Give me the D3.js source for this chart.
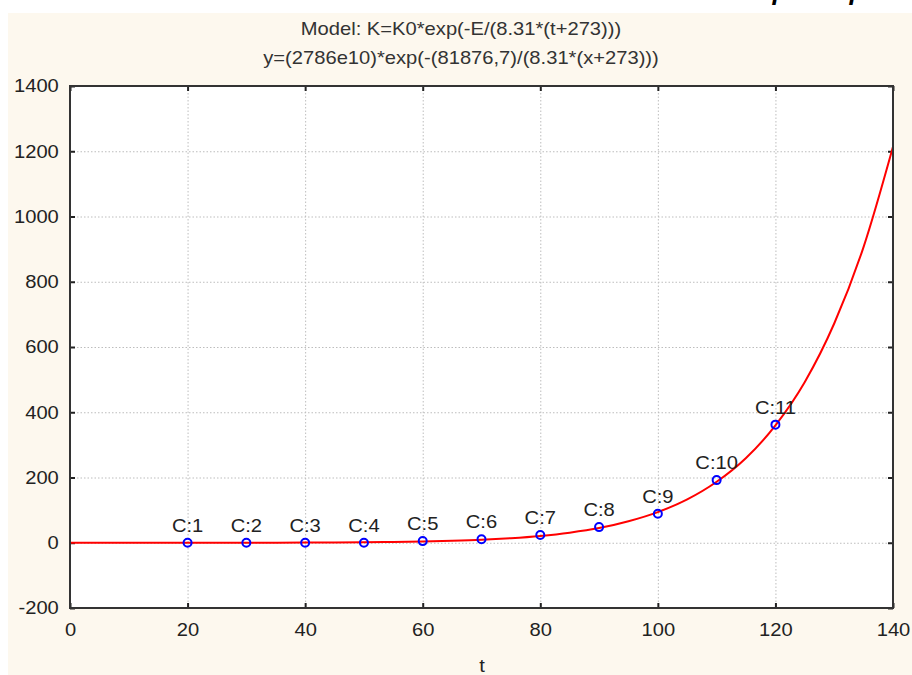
<!DOCTYPE html>
<html>
<head>
<meta charset="utf-8">
<script src="https://cdn.jsdelivr.net/npm/d3@7"></script>
<style>
  html, body { margin: 0; padding: 0; background: #fff; }
  svg text { font-family: "Liberation Sans", Arial, sans-serif; }
</style>
</head>
<body>
<svg id="chart" width="912" height="675"></svg>
<script>
// observed cases
var caseLabels = ["C:1", "C:2", "C:3", "C:4", "C:5", "C:6", "C:7", "C:8", "C:9", "C:10", "C:11"];
var caseT = [20, 30, 40, 50, 60, 70, 80, 90, 100, 110, 120];
var caseK = [0, 0, 0, 0, 5, 11, 24, 48, 89, 192, 362];

// fitted curve
var curveT = [0, 10, 20, 30, 40, 45, 50, 55, 60, 65, 70, 75, 80, 85, 90, 95, 100, 105, 110, 115, 120, 125, 130, 135, 140];
var curveK = [0, 0, 0.1, 0.2, 0.6, 1, 1.6, 2.5, 4, 6, 9, 14, 21, 31, 45, 66, 94, 133, 187, 260, 360, 493, 672, 907, 1214];

var xTicks = [0, 20, 40, 60, 80, 100, 120, 140];
var yTicks = [-200, 0, 200, 400, 600, 800, 1000, 1200, 1400];

var titleLines = ["Model: K=K0*exp(-E/(8.31*(t+273)))", "y=(2786e10)*exp(-(81876,7)/(8.31*(x+273)))"];
var xTitle = "t";

(function () {
  var svg = d3.select("#chart"),
      left = 70, right = 893, top = 86, bottom = 608,
      stretch = "scale(1.12,1)";

  // cream panel
  svg.append("rect").attr("x", 8).attr("y", 13).attr("width", 904).attr("height", 662).attr("fill", "#fdf8ee");

  // cut-off text from the page above
  svg.append("g").selectAll("text")
    .data([773, 850])
    .enter().append("text")
      .attr("x", function (d) { return d; }).attr("y", -3)
      .attr("font-family", "Liberation Serif, serif")
      .attr("font-style", "italic")
      .attr("font-size", 40)
      .attr("fill", "#000")
      .text("p");

  var x = d3.scaleLinear().domain([0, 140]).range([left, right]);
  var y = d3.scaleLinear().domain([-200, 1400]).range([bottom, top]);

  svg.append("rect").attr("x", left).attr("y", top).attr("width", right - left).attr("height", bottom - top).attr("fill", "#fff");

  // grid
  var grid = svg.append("g").attr("stroke", "#bdbdbd").attr("stroke-width", 1).attr("stroke-dasharray", "1.5,2");
  grid.selectAll("line.gx")
    .data(xTicks.slice(1, -1))
    .enter().append("line")
      .attr("x1", function (d) { return x(d) + 0.5; }).attr("x2", function (d) { return x(d) + 0.5; })
      .attr("y1", top).attr("y2", bottom);
  grid.selectAll("line.gy")
    .data(yTicks.slice(1, -1))
    .enter().append("line")
      .attr("y1", function (d) { return y(d) + 0.5; }).attr("y2", function (d) { return y(d) + 0.5; })
      .attr("x1", left).attr("x2", right);

  function styleAxis(g) {
    g.select(".domain").remove();
    g.selectAll(".tick line").attr("stroke", "#222").attr("stroke-width", 2);
    g.selectAll(".tick text").attr("fill", "#222").attr("font-size", 18).attr("font-family", null);
  }

  var plain = function (d) { return String(d); };

  svg.append("g").attr("transform", "translate(" + left + ",0)")
    .call(d3.axisLeft(y).tickValues(yTicks).tickSizeInner(-5).tickSizeOuter(0).tickPadding(10).tickFormat(plain))
    .call(styleAxis)
    .selectAll(".tick text").attr("transform", stretch);

  svg.append("g").attr("transform", "translate(0," + bottom + ")")
    .call(d3.axisBottom(x).tickValues(xTicks).tickSizeInner(-5).tickSizeOuter(0).tickPadding(15).tickFormat(plain))
    .call(styleAxis)
    .selectAll(".tick text").attr("transform", stretch);

  svg.append("g").attr("transform", "translate(0," + top + ")")
    .call(d3.axisTop(x).tickValues(xTicks).tickSizeInner(-5).tickSizeOuter(0).tickFormat(""))
    .call(styleAxis);

  svg.append("g").attr("transform", "translate(" + right + ",0)")
    .call(d3.axisRight(y).tickValues(yTicks).tickSizeInner(-5).tickSizeOuter(0).tickFormat(""))
    .call(styleAxis);

  // fitted curve
  var line = d3.line()
    .x(function (d, i) { return x(curveT[i]); })
    .y(function (d) { return y(d); })
    .curve(d3.curveMonotoneX);
  svg.append("path")
    .datum(curveK)
    .attr("d", line)
    .attr("fill", "none")
    .attr("stroke", "#ff0000")
    .attr("stroke-width", 2);

  // frame
  svg.append("rect").attr("x", left).attr("y", top).attr("width", right - left).attr("height", bottom - top)
    .attr("fill", "none").attr("stroke", "#333").attr("stroke-width", 2);

  // cases
  svg.append("g").selectAll("circle")
    .data(caseK)
    .enter().append("circle")
      .attr("cx", function (d, i) { return x(caseT[i]); })
      .attr("cy", function (d) { return y(d); })
      .attr("r", 4)
      .attr("fill", "none")
      .attr("stroke", "#0000ff")
      .attr("stroke-width", 2);

  svg.append("g").selectAll("text")
    .data(caseK)
    .enter().append("text")
      .attr("transform", function (d, i) { return "translate(" + x(caseT[i]) + "," + (y(d) - 11) + ") " + stretch; })
      .attr("text-anchor", "middle")
      .attr("font-size", 18)
      .attr("fill", "#222")
      .text(function (d, i) { return caseLabels[i]; });

  // titles
  svg.append("g").selectAll("text")
    .data(titleLines)
    .enter().append("text")
      .attr("transform", function (d, i) { return "translate(461," + (35 + i * 29) + ") " + stretch; })
      .attr("text-anchor", "middle")
      .attr("font-size", 18)
      .attr("fill", "#333")
      .text(function (d) { return d; });

  svg.append("text")
    .attr("transform", "translate(482,672) " + stretch)
    .attr("text-anchor", "middle")
    .attr("font-size", 18)
    .attr("fill", "#222")
    .text(xTitle);
})();
</script>
</body>
</html>
